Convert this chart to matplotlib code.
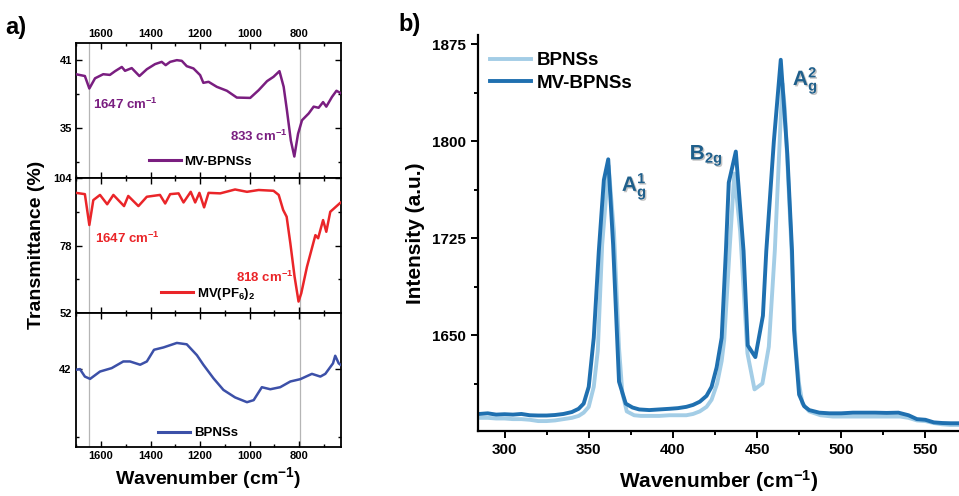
import matplotlib
matplotlib.use("Agg")
import matplotlib.pyplot as plt
import matplotlib.patheffects as pe
from matplotlib.ticker import FixedLocator, MultipleLocator

plt.rcParams["font.family"] = ["Liberation Sans", "DejaVu Sans"]
plt.rcParams["font.weight"] = "bold"
plt.rcParams["mathtext.fontset"] = "custom"
plt.rcParams["mathtext.bf"] = "Liberation Sans:bold"
plt.rcParams["mathtext.rm"] = "Liberation Sans:bold"
plt.rcParams["mathtext.default"] = "bf"

# ---- FTIR (panel a) ----
mv_bp_wn = [1701, 1665, 1647, 1624, 1591, 1564, 1543, 1516, 1503, 1476, 1445, 1415,
            1382, 1355, 1339, 1321, 1294, 1274, 1254, 1227, 1200, 1187, 1166, 1133,
            1092, 1052, 998, 964, 930, 904, 880, 863, 850, 834, 820, 805, 789, 762,
            742, 722, 704, 691, 668, 650, 634]
mv_bp_t = [39.76, 39.6, 38.5, 39.4, 39.76, 39.7, 40.03, 40.4, 40.06, 40.3, 39.6, 40.2,
           40.65, 40.85, 40.56, 40.85, 41.0, 40.94, 40.47, 40.27, 39.68, 39.0, 39.09, 38.65,
           38.3, 37.7, 37.67, 38.35, 39.15, 39.53, 40.03, 38.65, 36.6, 33.9, 32.5, 34.5,
           35.7, 36.3, 36.9, 36.8, 37.3, 36.9, 37.76, 38.3, 38.1]

mvpf_wn = [1701, 1665, 1647, 1631, 1604, 1575, 1550, 1507, 1490, 1449, 1415, 1362,
           1341, 1321, 1287, 1267, 1238, 1220, 1203, 1184, 1166, 1119, 1059, 1011,
           964, 904, 883, 865, 851, 836, 819, 803, 792, 769, 735, 724, 704, 691, 675, 634]
mvpf_t = [98.3, 97.8, 85.9, 95.5, 97.5, 93.9, 97.5, 93.2, 97.1, 93.2, 96.8, 97.5,
          94.2, 97.8, 98.1, 94.6, 98.7, 94.6, 98.3, 92.7, 98.3, 98.1, 99.6, 98.7,
          99.4, 99.1, 97.5, 91.7, 89.1, 78.8, 66.0, 56.4, 59.6, 69.8, 82.0, 80.8,
          87.8, 83.3, 91.0, 94.5]

bp_wn = [1701, 1685, 1665, 1644, 1604, 1557, 1510, 1483, 1442, 1415, 1386, 1348,
         1294, 1254, 1213, 1187, 1146, 1106, 1059, 1011, 984, 951, 917, 877, 836,
         796, 749, 715, 695, 664, 655, 641, 634]
bp_t = [41.93, 41.98, 41.43, 41.26, 41.8, 42.05, 42.54, 42.54, 42.3, 42.54, 43.4, 43.57,
        43.9, 43.8, 43.0, 42.3, 41.3, 40.45, 39.9, 39.55, 39.7, 40.65, 40.5, 40.65, 41.07,
        41.24, 41.63, 41.43, 41.63, 42.4, 42.96, 42.4, 42.3]

ftir_marks = [1647, 798]

# ---- Raman (panel b) ----
mv_raman_x = [285, 290, 295, 300, 305, 310, 315, 320, 325, 330, 335, 340, 344, 347,
              350, 353, 356, 359, 361.6, 364.5, 368, 372, 376, 380, 386, 392, 398,
              403, 408, 412, 416, 420, 423, 426, 429, 431.5, 433.2, 437.4, 442, 444.5,
              449, 453.5, 455.5, 460, 464.1, 468, 470.8, 472, 475, 478, 481, 487, 493,
              500, 507, 513, 520, 527, 534, 540, 545, 550, 555, 560, 565, 570]
mv_raman_y = [1589, 1589.5, 1588.5, 1588.8, 1588.5, 1589, 1588, 1587.8, 1587.8, 1588.2,
              1589, 1590.5, 1593, 1597, 1610, 1648, 1715, 1770, 1786, 1720, 1614, 1597,
              1594, 1592.5, 1592, 1592.5, 1593, 1593.5, 1594.5, 1596, 1598.5, 1603, 1610,
              1625, 1648, 1715, 1768, 1792, 1715, 1642, 1633, 1665, 1715, 1800, 1863,
              1790, 1715, 1654, 1604, 1595, 1592, 1590, 1589.5, 1589.5, 1590, 1590, 1590,
              1589.8, 1590, 1588, 1585, 1584.5, 1582.5, 1582, 1581.8, 1581.8]

bp_raman_x = [285, 290, 295, 300, 305, 310, 315, 320, 325, 330, 335, 340, 344, 347,
              350, 353, 355.4, 358, 361.8, 365, 368, 370, 372.6, 377, 381, 386, 392,
              398, 403, 408, 412, 416, 420, 423, 426.3, 429, 430.5, 433.7, 436.5, 440,
              444.3, 448.5, 453.2, 457, 460.6, 465, 466.5, 470, 473, 475, 477, 481,
              487.7, 495, 505, 515, 525, 535, 540, 545, 550, 555, 560, 565, 570]
bp_raman_y = [1586, 1586, 1585.5, 1585.5, 1585, 1585, 1584.5, 1583.5, 1583.5, 1584,
              1585, 1586, 1587.5, 1590, 1594.5, 1610, 1638, 1720, 1781, 1730, 1640, 1605,
              1591, 1588, 1587.5, 1587.5, 1587.5, 1588, 1588, 1588, 1589, 1591, 1594.5,
              1600, 1612.5, 1630, 1646, 1716, 1775, 1730, 1636, 1608, 1612.6, 1641, 1716,
              1845, 1826, 1730, 1640, 1612, 1597, 1591, 1588, 1587, 1587, 1587, 1587,
              1587, 1586, 1584, 1583.5, 1582, 1581, 1580.5, 1580.5]

PURPLE = "#7a1e80"
RED = "#ea2529"
BLUE = "#3c50a8"
LIGHT = "#a3cde6"
DARK = "#1f70b0"
ANN = "#1f5f8b"


def bold_ticks(ax):
    for lab in ax.get_xticklabels() + ax.get_yticklabels():
        lab.set_fontweight("bold")


fig = plt.figure(figsize=(9.59, 4.96), dpi=100)

ax_top = fig.add_axes([0.0792, 0.641, 0.2763, 0.272])
ax_mid = fig.add_axes([0.0792, 0.369, 0.2763, 0.272])
ax_bot = fig.add_axes([0.0792, 0.0988, 0.2763, 0.2702])

panels = [
    (ax_top, mv_bp_wn, mv_bp_t, PURPLE, "MV-BPNSs", (30.6, 42.5), [35, 41], [32, 38], (0.47, 0.12)),
    (ax_mid, mvpf_wn, mvpf_t, RED, r"MV(PF$_6$)$_2$", (52, 104), [52, 78, 104], [65, 91], (0.5, 0.14)),
    (ax_bot, bp_wn, bp_t, BLUE, "BPNSs", (36.26, 46.1), [42], [37], (0.46, 0.104)),
]
for ax, x, y, c, lab, ylim, maj, mnr, lpos in panels:
    for m in ftir_marks:
        ax.axvline(m, color="#b5b5b5", lw=0.9, zorder=1)
    ax.plot(x, y, color=c, lw=1.8, label=lab, zorder=3)
    ax.set_xlim(1701, 632)
    ax.set_ylim(*ylim)
    ax.yaxis.set_major_locator(FixedLocator(maj))
    ax.yaxis.set_minor_locator(FixedLocator(mnr))
    ax.xaxis.set_major_locator(MultipleLocator(200))
    ax.xaxis.set_minor_locator(MultipleLocator(100))
    ax.tick_params(which="both", direction="in", top=True, right=True,
                   labelsize=8, width=1.0, pad=3)
    ax.tick_params(which="major", length=4)
    ax.tick_params(which="minor", length=2.5)
    ax.tick_params(axis="x", labelbottom=False)
    for s in ax.spines.values():
        s.set_linewidth(1.3)
    leg = ax.legend(loc="center", bbox_to_anchor=lpos, frameon=False, fontsize=9.5,
                    handlelength=2.4, handletextpad=0.3, borderpad=0)
    for t in leg.get_texts():
        t.set_fontweight("bold")
    for h in leg.get_lines():
        h.set_linewidth(2.2)

ax_top.tick_params(axis="x", labeltop=True)
ax_bot.tick_params(axis="x", labelbottom=True)
ax_bot.set_xlabel(r"Wavenumber (cm$^{-1}$)", fontsize=14, fontweight="bold", labelpad=3)
fig.text(0.038, 0.506, "Transmittance (%)", rotation=90, fontsize=14,
         fontweight="bold", ha="center", va="center")

for ax in (ax_top, ax_mid, ax_bot):
    bold_ticks(ax)

ax_top.text(1632, 37.1, r"1647 cm$^{-1}$", color=PURPLE, fontsize=9.5,
            fontweight="bold", va="center")
ax_top.text(1079, 34.3, r"833 cm$^{-1}$", color=PURPLE, fontsize=9.5,
            fontweight="bold", va="center")
ax_mid.text(1624, 80.9, r"1647 cm$^{-1}$", color=RED, fontsize=9.5,
            fontweight="bold", va="center")
ax_mid.text(1055, 65.9, r"818 cm$^{-1}$", color=RED, fontsize=9.5,
            fontweight="bold", va="center")

# ---- Raman panel ----
axr = fig.add_axes([0.4984, 0.131, 0.5016, 0.798])
axr.plot(bp_raman_x, bp_raman_y, color=LIGHT, lw=2.8, label="BPNSs")
axr.plot(mv_raman_x, mv_raman_y, color=DARK, lw=2.8, label="MV-BPNSs")
axr.set_xlim(284.2, 570)
axr.set_ylim(1575.8, 1882)
axr.yaxis.set_major_locator(FixedLocator([1650, 1725, 1800, 1875]))
axr.yaxis.set_minor_locator(FixedLocator([1612.5, 1687.5, 1762.5, 1837.5]))
axr.xaxis.set_major_locator(MultipleLocator(50))
axr.xaxis.set_minor_locator(MultipleLocator(25))
axr.spines["top"].set_visible(False)
axr.spines["right"].set_visible(False)
for s in ("left", "bottom"):
    axr.spines[s].set_linewidth(1.6)
axr.tick_params(which="both", direction="out", labelsize=11, width=1.4)
axr.tick_params(which="major", length=5)
axr.tick_params(which="minor", length=3)
bold_ticks(axr)
axr.set_xlabel(r"Wavenumber (cm$^{-1}$)", fontsize=15, fontweight="bold", labelpad=8)
axr.set_ylabel("Intensity (a.u.)", fontsize=15, fontweight="bold", labelpad=5)
leg = axr.legend(loc="upper left", bbox_to_anchor=(-0.01, 1.0), frameon=False, fontsize=13.5,
                 handlelength=2.2, handletextpad=0.3, labelspacing=0.3)
for t in leg.get_texts():
    t.set_fontweight("bold")

shadow = [pe.withSimplePatchShadow(offset=(1, -1), shadow_rgbFace="#888888", alpha=0.5)]
axr.text(369.7, 1765, r"$A^{1}_{g}$", color=ANN, fontsize=15, va="center",
         path_effects=shadow)
axr.text(410, 1789, r"$B_{2g}$", color=ANN, fontsize=15, va="center",
         path_effects=shadow)
axr.text(471.3, 1847, r"$A^{2}_{g}$", color=ANN, fontsize=15, va="center",
         path_effects=shadow)

fig.text(0.005, 0.945, "a)", fontsize=17, fontweight="bold", va="center")
fig.text(0.415, 0.95, "b)", fontsize=17, fontweight="bold", va="center")

fig.savefig("out.png", dpi=100)
